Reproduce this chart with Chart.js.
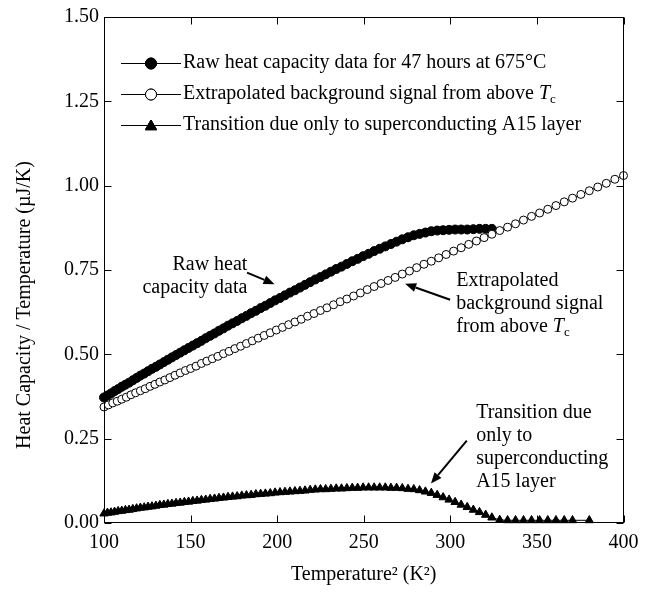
<!DOCTYPE html>
<html><head><meta charset="utf-8">
<script src="https://cdn.jsdelivr.net/npm/chart.js@4.4.0/dist/chart.umd.min.js"></script>
<style>html,body{margin:0;padding:0;background:#fff;}#wrap{width:655px;height:601px;}</style>
</head><body><div id="wrap"><canvas id="c" width="655" height="601"></canvas></div>
<script>
// ---- data ----
const rawT2 = [100,102.01,104.04,106.09,108.16,110.25,112.36,114.49,116.64,118.81,121,123.21,125.44,127.69,129.96,132.25,134.56,136.89,139.24,141.61,144,146.41,148.84,151.29,153.76,156.25,158.76,161.29,163.84,166.41,169,171.61,174.24,176.89,179.56,182.25,184.96,187.69,190.44,193.21,196,198.81,201.64,204.49,207.36,210.25,213.16,216.09,219.04,222.01,225,228.01,231.04,234.09,237.16,240.25,243.36,246.49,249.64,252.81,256,259.21,262.44,265.69,268.96,272.25,275.56,278.89,282.24,285.61,289,292.41,295.84,299.29,302.76,306.25,309.76,313.29,316.84,320.41,324];
const rawValues = [.372,.378,.384,.391,.397,.404,.410,.416,.423,.430,.437,.443,.450,.457,.463,.470,.477,.484,.491,.498,.505,.512,.519,.526,.533,.540,.548,.555,.562,.570,.577,.585,.592,.599,.607,.614,.622,.629,.637,.644,.652,.660,.667,.675,.683,.690,.698,.706,.714,.722,.729,.737,.745,.753,.760,.768,.776,.783,.791,.798,.806,.813,.820,.827,.834,.841,.847,.853,.857,.861,.865,.867,.868,.869,.870,.870,.870,.871,.872,.872,.872];
const transValues = [.028,.030,.031,.033,.035,.036,.038,.039,.041,.043,.045,.046,.048,.049,.051,.053,.054,.056,.057,.059,.060,.062,.063,.065,.066,.068,.069,.071,.072,.074,.075,.077,.078,.079,.081,.082,.083,.085,.086,.087,.088,.090,.091,.092,.093,.094,.095,.096,.098,.099,.100,.100,.101,.102,.102,.103,.104,.104,.105,.105,.105,.105,.105,.104,.104,.103,.101,.100,.097,.093,.089,.083,.076,.069,.062,.054,.047,.039,.032,.024,.016];
const transTailT2 = [328.52,333.06,337.64,342.25,346.89,351.56,356.27,361,365.77,370.56,380.25];
const transTailValues = [.009,.008,.008,.008,.008,.008,.008,.008,.008,.008,.008];
const bgT2 = [100,102.52,105.06,107.64,110.25,112.89,115.56,118.27,121,123.77,126.56,129.39,132.25,135.14,138.06,141.02,144,147.02,150.06,153.14,156.25,159.39,162.56,165.77,169,172.27,175.56,178.89,182.25,185.64,189.06,192.52,196,199.52,203.06,206.64,210.25,213.89,217.56,221.27,225,228.77,232.56,236.39,240.25,244.14,248.06,252.02,256,260.02,264.06,268.14,272.25,276.39,280.56,284.77,289,293.27,297.56,301.89,306.25,310.64,315.06,319.52,324,328.52,333.06,337.64,342.25,346.89,351.56,356.27,361,365.77,370.56,375.39,380.25,385.14,390.06,395.02,400];
const bgValues = [.344,.350,.356,.361,.367,.373,.380,.386,.392,.398,.405,.411,.418,.424,.431,.438,.445,.452,.458,.465,.473,.480,.487,.494,.502,.509,.517,.524,.532,.540,.548,.556,.564,.572,.580,.588,.596,.604,.613,.621,.630,.638,.647,.656,.664,.673,.682,.692,.701,.710,.719,.728,.738,.747,.757,.767,.776,.786,.796,.806,.816,.826,.836,.846,.856,.867,.877,.887,.898,.909,.919,.930,.941,.952,.963,.974,.985,.996,1.007,1.019,1.030];
const xTicks = [100,150,200,250,300,350,400];
const yTicks = [0,0.25,0.5,0.75,1.0,1.25,1.5];
const seriesNames = ['Raw heat capacity data for 47 hours at 675°C','Extrapolated background signal from above ','Transition due only to superconducting A15 layer'];
const xTitle = 'Temperature² (K²)';
const yTitle = 'Heat Capacity / Temperature (µJ/K)';

const FONT = '"Liberation Serif", "Times New Roman", serif';
const pts = (xs, ys) => xs.map((x, i) => ({x, y: ys[i]}));

function drawRich(ctx, parts, x, y, align) {
  const fonts = parts.map(p => p.sub ? '13px ' + FONT : (p.italic ? 'italic 20px ' + FONT : '20px ' + FONT));
  let total = 0;
  parts.forEach((p, i) => { ctx.font = fonts[i]; p.w = ctx.measureText(p.t).width; total += p.w; });
  let cx = align === 'right' ? x - total : (align === 'center' ? x - total / 2 : x);
  ctx.textAlign = 'left'; ctx.textBaseline = 'middle';
  parts.forEach((p, i) => { ctx.font = fonts[i]; ctx.fillText(p.t, cx, y + (p.sub ? 6 : 0)); cx += p.w; });
}
function arrow(ctx, x1, y1, x2, y2) {
  const a = Math.atan2(y2 - y1, x2 - x1), L = 11, W = 4.5;
  const bx = x2 - L * Math.cos(a), by = y2 - L * Math.sin(a);
  ctx.lineWidth = 2; ctx.beginPath(); ctx.moveTo(x1, y1); ctx.lineTo(bx, by); ctx.stroke();
  ctx.beginPath(); ctx.moveTo(x2, y2);
  ctx.lineTo(bx + W * Math.sin(a), by - W * Math.cos(a));
  ctx.lineTo(bx - W * Math.sin(a), by + W * Math.cos(a));
  ctx.closePath(); ctx.fill();
}

const overlay = {
  id: 'overlay',
  afterDraw(chart) {
    const ctx = chart.ctx, ca = chart.chartArea, xs = chart.scales.x, ys = chart.scales.y;
    ctx.save();
    ctx.strokeStyle = '#000'; ctx.fillStyle = '#000'; ctx.lineWidth = 1;
    const L = Math.round(ca.left) + 0.5, R = Math.round(ca.right) - 0.5, T = Math.round(ca.top) + 0.5, B = Math.round(ca.bottom) - 0.5;
    ctx.strokeRect(L, T, R - L, B - T);
    ctx.beginPath();
    xTicks.forEach(v => { const p = Math.round(xs.getPixelForValue(v)) + 0.5; ctx.moveTo(p, B); ctx.lineTo(p, B - 7); ctx.moveTo(p, T); ctx.lineTo(p, T + 7); });
    yTicks.forEach(v => { const p = Math.round(ys.getPixelForValue(v)) + 0.5; ctx.moveTo(L, p); ctx.lineTo(L + 7, p); ctx.moveTo(R, p); ctx.lineTo(R - 7, p); });
    ctx.stroke();

    // legend
    const rows = [63, 94, 125];
    const styles = [{pointStyle: 'circle', bg: '#000'}, {pointStyle: 'circle', bg: '#fff'}, {pointStyle: 'triangle', bg: '#000'}];
    rows.forEach((y, i) => {
      ctx.lineWidth = 1.2; ctx.strokeStyle = '#000';
      ctx.beginPath(); ctx.moveTo(121, y + 0.5); ctx.lineTo(181, y + 0.5); ctx.stroke();
      ctx.fillStyle = styles[i].bg; ctx.lineWidth = 1;
      Chart.helpers.drawPoint(ctx, {pointStyle: styles[i].pointStyle, radius: i === 2 ? 6.5 : 5.5, borderWidth: 1, rotation: 0}, 151, y + (i === 2 ? 1.5 : 0.5));
      ctx.fill(); ctx.stroke();
      ctx.fillStyle = '#000';
      const parts = [{t: seriesNames[i]}];
      if (i === 1) { parts.push({t: 'T', italic: true}); parts.push({t: 'c', sub: true}); }
      drawRich(ctx, parts, 183, y, 'left');
    });

    // annotations (anchored in data units)
    const P = (x, y) => [xs.getPixelForValue(x), ys.getPixelForValue(y)];
    ctx.fillStyle = '#000'; ctx.strokeStyle = '#000';
    let p = P(182.8, 0.765); drawRich(ctx, [{t: 'Raw heat'}], p[0], p[1], 'right');
    p = P(182.8, 0.697); drawRich(ctx, [{t: 'capacity data'}], p[0], p[1], 'right');
    let a1 = P(182.6, 0.742), a2 = P(198.5, 0.708); arrow(ctx, a1[0], a1[1], a2[0], a2[1]);

    p = P(303.4, 0.718); drawRich(ctx, [{t: 'Extrapolated'}], p[0], p[1], 'left');
    p = P(303.4, 0.650); drawRich(ctx, [{t: 'background signal'}], p[0], p[1], 'left');
    p = P(303.4, 0.582); drawRich(ctx, [{t: 'from above '}, {t: 'T', italic: true}, {t: 'c', sub: true}], p[0], p[1], 'left');
    a1 = P(299.9, 0.662); a2 = P(273.9, 0.709); arrow(ctx, a1[0], a1[1], a2[0], a2[1]);

    ['Transition due', 'only to', 'superconducting', 'A15 layer'].forEach((t, i) => {
      const q = P(314.9, [0.327, 0.259, 0.191, 0.121][i]); drawRich(ctx, [{t}], q[0], q[1], 'left');
    });
    a1 = P(309.5, 0.244); a2 = P(288.8, 0.117); arrow(ctx, a1[0], a1[1], a2[0], a2[1]);

    // axis titles
    ctx.font = '20px ' + FONT; ctx.textAlign = 'center'; ctx.textBaseline = 'middle';
    ctx.fillText(xTitle, (ca.left + ca.right) / 2, 575);
    ctx.translate(25, 305); ctx.rotate(-Math.PI / 2); ctx.fillText(yTitle, 0, 0);
    ctx.restore();
  }
};

const common = {showLine: true, borderColor: '#000', borderWidth: 1, pointBorderColor: '#000', pointBorderWidth: 1, clip: false};
new Chart(document.getElementById('c'), {
  type: 'scatter',
  data: {
    datasets: [
      Object.assign({label: seriesNames[1], data: pts(bgT2, bgValues), pointStyle: 'circle', pointRadius: 4, pointBackgroundColor: '#fff', order: 0}, common),
      Object.assign({label: seriesNames[0], data: pts(rawT2, rawValues), pointStyle: 'circle', pointRadius: 4.5, pointBackgroundColor: '#000', order: 1}, common),
      Object.assign({label: seriesNames[2], data: pts(rawT2, transValues).concat(pts(transTailT2, transTailValues)), pointStyle: 'triangle', pointRadius: 4.8, pointBackgroundColor: '#000', order: 2}, common)
    ]
  },
  options: {
    responsive: false, animation: false, devicePixelRatio: 1,
    layout: {padding: {top: 13, right: 31.5, left: 0, bottom: 0}},
    plugins: {legend: {display: false}, tooltip: {enabled: false}},
    scales: {
      x: {type: 'linear', min: 100, max: 400,
        afterBuildTicks: s => { s.ticks = xTicks.map(v => ({value: v})); },
        afterFit: s => { s.height = 78; },
        grid: {display: false, drawTicks: false}, border: {display: false},
        ticks: {color: '#000', font: {family: FONT, size: 20}, padding: 8, maxRotation: 0, autoSkip: false}},
      y: {type: 'linear', min: 0, max: 1.5,
        afterBuildTicks: s => { s.ticks = yTicks.map(v => ({value: v})); },
        afterFit: s => { s.width = 104; },
        grid: {display: false, drawTicks: false}, border: {display: false},
        ticks: {color: '#000', font: {family: FONT, size: 20}, padding: 5, callback: v => Number(v).toFixed(2)}}
    }
  },
  plugins: [overlay]
});
</script></body></html>
